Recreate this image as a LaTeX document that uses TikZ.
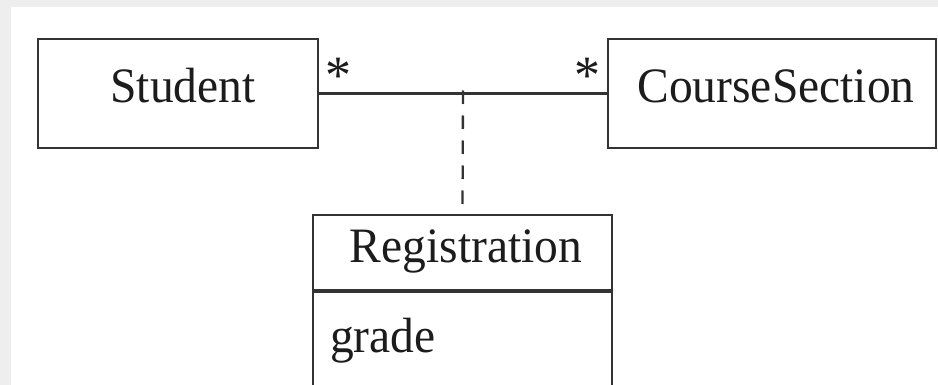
\documentclass[tikz,border=0pt]{standalone}
\usepackage{fontspec}
\setmainfont[FakeStretch=0.96]{Liberation Serif}
\usetikzlibrary{calc}
\definecolor{linec}{HTML}{333333}
\definecolor{textc}{HTML}{1C1C1C}
\definecolor{bggray}{HTML}{EEEEEE}
\begin{document}
\begin{tikzpicture}[x=1pt,y=-1pt,
  ink/.style={draw=linec, line width=2.3pt},
  classbox/.style={ink, rectangle, inner sep=0pt, font=\fontsize{49.5}{59}\selectfont,
    text=textc, text height=32pt, text depth=13pt},
  txt/.style={font=\fontsize{49.5}{59}\selectfont, text=textc, inner sep=0pt},
  mult/.style={font=\fontsize{54}{64}\selectfont, text=textc, inner sep=0pt, anchor=base}]
\useasboundingbox (0,0) rectangle (938,385);
\clip (0,0) rectangle (938,385);
\fill[bggray] (0,0) rectangle (938,385);
\fill[white] (11,7) rectangle (938,385);
% classes
\node[classbox, minimum width=280pt, minimum height=109pt] (student) at (178,93.5) {\hspace*{10pt}Student};
\node[classbox, minimum width=328pt, minimum height=109pt] (course) at (772,93.5) {\hspace*{8pt}CourseSection};
\node[classbox, minimum width=299pt, minimum height=75pt] (reg) at (462.5,252.5) {\hspace*{7pt}Registration};
\node[ink, rectangle, inner sep=0pt, minimum width=299pt, minimum height=130pt, anchor=north] (attrs) at (reg.south) {};
\node[txt, anchor=base west] (grade) at (330,352) {grade};
% association
\draw[ink] (student.east) -- (course.west);
\coordinate (mid) at ($(student.east)!0.5!(course.west)$);
\draw[ink, dash pattern=on 13.5pt off 11.5pt] ([yshift=3pt]mid) -- (reg.north);
% multiplicities
\node[mult] (m1) at (338,94) {*};
\node[mult] (m2) at (587,94) {*};
\end{tikzpicture}
\end{document}
